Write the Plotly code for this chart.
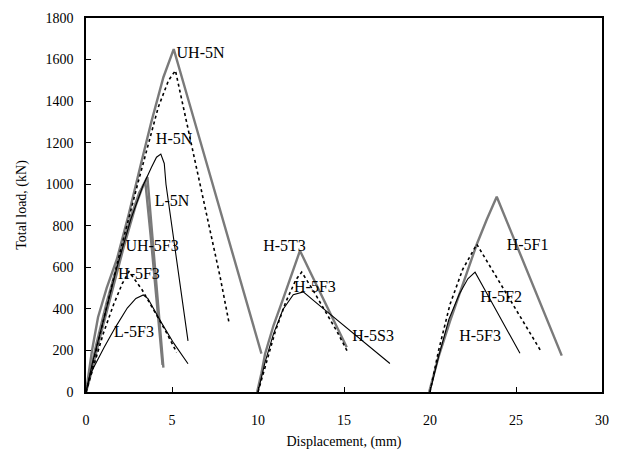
import plotly.graph_objects as go

# ---- Data (displacement mm, total load kN) ----
uh5n_x = [0, 0.1, 0.35, 0.7, 1.2, 1.8, 2.5, 3.2, 3.8, 4.5, 5.1, 6.0, 7.0, 8.0, 9.0, 10.2]
uh5n_y = [0, 60, 200, 360, 500, 640, 860, 1100, 1300, 1515, 1650, 1392, 1105, 818, 531, 185]

uh5f3_x = [0, 0.5, 1.2, 2.0, 3.0, 4.2, 4.8, 5.2, 6.0, 7.0, 7.8, 8.3]
uh5f3_y = [0, 170, 420, 680, 1000, 1370, 1500, 1547, 1241, 859, 553, 340]

h5n_x = [0, 0.4, 1.0, 1.8, 2.6, 3.3, 3.8, 4.1, 4.35, 4.55, 4.65, 5.0, 5.4, 5.93]
h5n_y = [0, 150, 340, 600, 830, 990, 1080, 1130, 1145, 1100, 1000, 790, 540, 246]

l5n_x = [0, 0.3, 0.8, 1.5, 2.2, 2.9, 3.3, 3.57, 3.8, 4.1, 4.5]
l5n_y = [0, 90, 260, 480, 700, 900, 990, 1034, 807, 511, 117]

uh5f3b_x = [0, 0.2, 0.6, 1.2, 1.9, 2.6, 3.1, 3.45, 3.75, 4.1, 4.45]
uh5f3b_y = [0, 80, 230, 430, 640, 840, 960, 1010, 760, 440, 130]

h5f3_x = [0, 0.5, 1.0, 1.6, 2.1, 2.5, 2.8, 3.26, 3.9, 4.63, 5.27]
h5f3_y = [0, 140, 280, 420, 520, 580, 545, 492, 400, 293, 191]

l5f3_x = [0, 0.27, 1.05, 1.7, 2.4, 2.9, 3.33, 3.6, 4.34, 5.1, 5.93]
l5f3_y = [0, 90, 214, 310, 404, 450, 467, 450, 340, 235, 136]

h5t3_x = [9.95, 10.2, 10.41, 10.9, 11.47, 12.0, 12.44, 13.0, 13.8, 14.5, 15.16]
h5t3_y = [0, 90, 183, 320, 451, 580, 680, 584, 447, 327, 215]

h5f3b_x = [10, 10.5, 11.0, 11.6, 12.2, 12.54, 13.2, 13.9, 14.6, 15.23]
h5f3b_y = [0, 150, 290, 430, 540, 577, 490, 390, 290, 190]

h5s3_x = [10, 10.4, 10.9, 11.45, 12.05, 12.63, 13.5, 14.5, 15.5, 16.5, 17.67]
h5s3_y = [0, 140, 280, 397, 468, 482, 422, 354, 285, 217, 137]

h5f1_x = [19.95, 20.5, 21.16, 21.9, 22.72, 23.3, 23.88, 24.8, 25.7, 26.7, 27.66]
h5f1_y = [0, 170, 340, 520, 711, 830, 940, 754, 572, 370, 175]

h5f2_x = [20, 20.5, 21.16, 21.9, 22.72, 23.6, 24.6, 25.5, 26.49]
h5f2_y = [0, 200, 421, 590, 711, 590, 452, 328, 191]

h5f3c_x = [20, 20.5, 21.1, 21.7, 22.2, 22.62, 23.3, 24.0, 24.6, 25.23]
h5f3c_y = [0, 170, 350, 470, 545, 577, 475, 370, 280, 186]

label_text = ["UH-5N", "H-5N", "L-5N", "UH-5F3", "H-5F3", "L-5F3",
              "H-5T3", "H-5F3", "H-5S3", "H-5F1", "H-5F2", "H-5F3"]
label_x = [6.66, 5.12, 5.0, 3.84, 3.08, 2.79, 11.54, 13.31, 16.69, 25.67, 24.13, 22.91]
label_y = [1627, 1211, 913, 700, 563, 284, 700, 501, 265, 705, 454, 265]

GRAY = dict(color="#7a7a7a", width=2.4)
THIN = dict(color="black", width=1.1)
DOT = dict(color="black", width=1.6, dash="dot")

series = [
    (uh5n_x, uh5n_y, GRAY, "UH-5N"),
    (uh5f3b_x, uh5f3b_y, GRAY, "UH-5F3"),
    (l5n_x, l5n_y, GRAY, "L-5N"),
    (uh5f3_x, uh5f3_y, DOT, "UH-5F3 (dotted)"),
    (h5n_x, h5n_y, THIN, "H-5N"),
    (h5f3_x, h5f3_y, DOT, "H-5F3"),
    (l5f3_x, l5f3_y, THIN, "L-5F3"),
    (h5t3_x, h5t3_y, GRAY, "H-5T3"),
    (h5f3b_x, h5f3b_y, DOT, "H-5F3"),
    (h5s3_x, h5s3_y, THIN, "H-5S3"),
    (h5f1_x, h5f1_y, GRAY, "H-5F1"),
    (h5f2_x, h5f2_y, DOT, "H-5F2"),
    (h5f3c_x, h5f3c_y, THIN, "H-5F3"),
]

fig = go.Figure()
for xs, ys, ln, nm in series:
    fig.add_trace(go.Scatter(x=xs, y=ys, mode="lines", line=ln, name=nm,
                             showlegend=False, hoverinfo="skip"))

fig.add_trace(go.Scatter(x=label_x, y=label_y, mode="text", text=label_text,
                         textfont=dict(family="Liberation Serif", size=16, color="black"),
                         showlegend=False, hoverinfo="skip"))

axis_common = dict(showgrid=False, zeroline=False, showline=True, linecolor="black",
                   linewidth=1.5, mirror=True, ticks="inside", ticklen=5,
                   tickcolor="black", tickwidth=1,
                   tickfont=dict(family="Liberation Serif", size=14, color="black"))

fig.update_layout(
    width=623, height=461,
    margin=dict(l=86, r=21, t=11, b=69),
    paper_bgcolor="white", plot_bgcolor="white",
    xaxis=dict(range=[0, 30], dtick=5, tick0=0, ticklabelstandoff=14,
               title=dict(text="Displacement, (mm)", standoff=10,
                          font=dict(family="Liberation Serif", size=14, color="black")),
               **axis_common),
    yaxis=dict(range=[0, 1800], dtick=200, tick0=0, ticklabelstandoff=8,
               title=dict(text="Total load, (kN)", standoff=16,
                          font=dict(family="Liberation Serif", size=14, color="black")),
               **axis_common),
)

fig.write_html("out.html", config={"displayModeBar": False},
               post_script="document.body.style.margin='0px';")
